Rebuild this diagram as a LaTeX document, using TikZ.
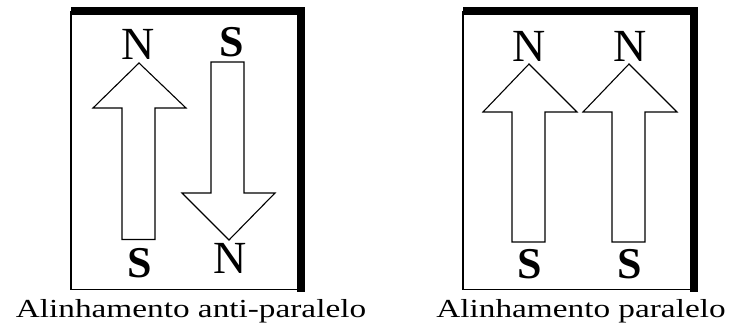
\documentclass[tikz,border=0pt]{standalone}
\usepackage{fontspec}
\setmainfont{Liberation Serif}
\begin{document}
\begin{tikzpicture}[x=1pt,y=-1pt,
  thin line/.style={line width=1.1pt},
  thick bar/.style={line width=8pt},
  pole/.style={font=\fontsize{46}{46}\selectfont, anchor=base, inner sep=0pt},
  spole/.style={font=\fontsize{44}{44}\selectfont\bfseries, anchor=base, inner sep=0pt},
  caption/.style={font=\fontsize{26}{26}\selectfont, anchor=base, inner sep=0pt},
  magnet/.style={thin line, fill=white, line join=miter}]
\useasboundingbox (0,0) rectangle (734,334);
\fill[white] (0,0) rectangle (734,334);
% left box
\draw[thin line] (71,11) -- (71,289.5) -- (301,289.5);
\draw[thick bar] (71,11) -- (301,11) -- (301,292);
% right box
\draw[thin line] (463,11) -- (463,289.5) -- (694,289.5);
\draw[thick bar] (463,11) -- (694,11) -- (694,292);
% up arrow (left box)
\draw[magnet] (122,239.5) -- (122,108) -- (93,108) -- (139,63) -- (186,108) -- (155,108) -- (155,239.5) -- cycle;
% down arrow (left box)
\draw[magnet] (211,62) -- (211,193) -- (182,193) -- (229,240) -- (275,193) -- (244,193) -- (244,62) -- cycle;
% up arrows (right box)
\draw[magnet] (512,242) -- (512,112) -- (483,112) -- (529,64) -- (577,112) -- (545,112) -- (545,242) -- cycle;
\draw[magnet] (612,242) -- (612,112) -- (583,112) -- (629,64) -- (677,112) -- (645,112) -- (645,242) -- cycle;
% poles
\node[pole]  (n1) at (138,60) {N};
\node[spole] (s1) at (140,277) {S};
\node[spole] (s2) at (232,57) {S};
\node[pole]  (n2) at (230,273) {N};
\node[pole]  (n3) at (529,62) {N};
\node[spole] (s3) at (530,278) {S};
\node[pole]  (n4) at (630,62) {N};
\node[spole] (s4) at (630,278) {S};
% captions
\node[caption] (c1) at (191,317) {\scalebox{1.28}[1]{Alinhamento anti-paralelo}};
\node[caption] (c2) at (581,317) {\scalebox{1.28}[1]{Alinhamento paralelo}};
\end{tikzpicture}
\end{document}
